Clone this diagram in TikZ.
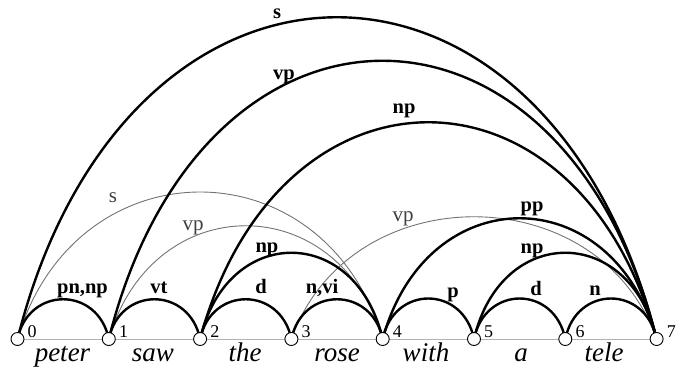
\documentclass[tikz,border=0pt]{standalone}
\usepackage{fontspec}
\setmainfont{Liberation Serif}
\usetikzlibrary{backgrounds}
\begin{document}
\begin{tikzpicture}[x=1pt,y=-1pt,
  vtx/.style={circle,draw=black,fill=white,line width=0.9pt,minimum size=13pt,inner sep=0pt},
  bigarc/.style={line width=2.4pt,draw=black},
  thinarc/.style={line width=0.9pt,draw=black!55},
  baseln/.style={line width=1pt,draw=black!30},
  lab/.style={font=\fontsize{20.5}{24}\selectfont\bfseries,anchor=base,inner sep=0pt},
  tlab/.style={font=\fontsize{21}{24}\selectfont,anchor=base,inner sep=0pt,text=black!75},
  word/.style={font=\fontsize{27}{30}\selectfont\itshape,anchor=base,inner sep=0pt},
  num/.style={font=\fontsize{18}{20}\selectfont,anchor=base west,inner sep=0pt}]
\useasboundingbox (0,0) rectangle (686,368);
% vertices
\foreach \i in {0,...,7}{
  \node[vtx] (n\i) at ({17.5+91.3*\i},339) {};
  \node[num] (k\i) at ({27.5+91.3*\i},337) {\i};
}
\begin{scope}[on background layer]
  \draw[baseln] (n0.center) -- (n7.center);
  % thin arcs
  \draw[thinarc] (n0.center) .. controls +(58,-196) and +(-58,-196) .. (n4.center);
  \draw[thinarc] (n1.center) .. controls +(44,-151) and +(-44,-151) .. (n4.center);
  \draw[thinarc] (n3.center) .. controls +(58,-163) and +(-58,-163) .. (n7.center);
  % small arcs
  \draw[bigarc] (n0.center) .. controls +(11,-53) and +(-11,-53) .. (n1.center);
  \draw[bigarc] (n1.center) .. controls +(11,-53) and +(-11,-53) .. (n2.center);
  \draw[bigarc] (n2.center) .. controls +(11,-53) and +(-11,-53) .. (n3.center);
  \draw[bigarc] (n3.center) .. controls +(11,-53) and +(-11,-53) .. (n4.center);
  \draw[bigarc] (n4.center) .. controls +(11,-54) and +(-11,-54) .. (n5.center);
  \draw[bigarc] (n5.center) .. controls +(11,-54) and +(-11,-54) .. (n6.center);
  \draw[bigarc] (n6.center) .. controls +(11,-54) and +(-11,-54) .. (n7.center);
  % larger arcs
  \draw[bigarc] (n2.center) .. controls +(27,-115) and +(-27,-115) .. (n4.center);
  \draw[bigarc] (n5.center) .. controls +(27,-115) and +(-27,-115) .. (n7.center);
  \draw[bigarc] (n4.center) .. controls +(44,-161) and +(-44,-161) .. (n7.center);
  \draw[bigarc] (n2.center) .. controls +(78,-289) and +(-78,-289) .. (n7.center);
  \draw[bigarc] (n1.center) .. controls +(93,-371) and +(-93,-371) .. (n7.center);
  \draw[bigarc] (n0.center) .. controls +(108,-429) and +(-108,-429) .. (n7.center);
\end{scope}
% arc labels
\node[lab] (l07) at (277,18) {s};
\node[lab] (l17) at (284,79) {vp};
\node[lab] (l27) at (404,113) {np};
\node[lab] (l47) at (532,211) {pp};
\node[lab] (l57) at (532,253) {np};
\node[lab] (l24) at (267,252) {np};
\node[lab] (l01) at (82.5,293) {pn,np};
\node[lab] (l12) at (159,293) {vt};
\node[lab] (l23) at (261,293) {d};
\node[lab] (l34) at (322,293) {n,vi};
\node[lab] (l45) at (453,297) {p};
\node[lab] (l56) at (536,295) {d};
\node[lab] (l67) at (595,295) {n};
\node[tlab] (t04) at (113,202) {s};
\node[tlab] (t14) at (193,230) {vp};
\node[tlab] (t37) at (403,221) {vp};
% words
\node[word] (w0) at (62.5,361) {peter};
\node[word] (w1) at (153,361) {saw};
\node[word] (w2) at (245,361) {the};
\node[word] (w3) at (337,361) {rose};
\node[word] (w4) at (426,361) {with};
\node[word] (w5) at (521,361) {a};
\node[word] (w6) at (604,361) {tele};
\end{tikzpicture}
\end{document}
